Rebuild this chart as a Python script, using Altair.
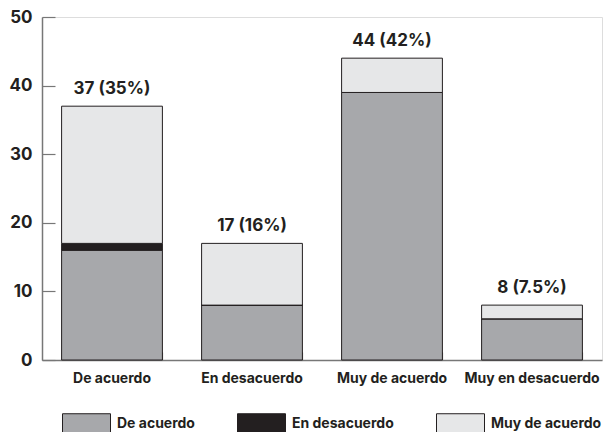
import altair as alt
import pandas as pd

# Categories on the x axis and the three answer groups stacked in each bar
categorias = ["De acuerdo", "En desacuerdo", "Muy de acuerdo", "Muy en desacuerdo"]
series = ["De acuerdo", "En desacuerdo", "Muy de acuerdo"]

# Stacked values per category (bottom to top: De acuerdo, En desacuerdo, Muy de acuerdo)
val_de_acuerdo = [16, 8, 39, 6]
val_en_desacuerdo = [1, 0, 0, 0]
val_muy_de_acuerdo = [20, 9, 5, 2]

# Totals and their labels above each bar
totales = [37, 17, 44, 8]
etiquetas = ["37 (35%)", "17 (16%)", "44 (42%)", "8 (7.5%)"]

colores = ["#a7a8ab", "#231f20", "#e6e7e8"]
FONT = "Inter"
W, H = 560, 343

filas = []
for i, cat in enumerate(categorias):
    for j, (s, vals) in enumerate(zip(series, [val_de_acuerdo, val_en_desacuerdo, val_muy_de_acuerdo])):
        filas.append({"categoria": cat, "serie": s, "valor": vals[i], "orden": j})
df = pd.DataFrame(filas)
df_tot = pd.DataFrame({"categoria": categorias, "total": totales, "etiqueta": etiquetas})

x_scale = alt.Scale(domain=categorias, paddingInner=0.28, paddingOuter=0.14)
y_scale = alt.Scale(domain=[0, 50])

barras = alt.Chart(df).mark_bar(stroke="#231f20", strokeWidth=1).encode(
    x=alt.X("categoria:N", scale=x_scale, sort=categorias, title=None,
            axis=alt.Axis(orient="bottom", ticks=False, domain=True, domainColor="#777777",
                          domainWidth=1.5, labelAngle=0, labelFont=FONT, labelFontSize=14,
                          labelFontWeight="bold", labelColor="#231f20", labelPadding=11)),
    y=alt.Y("valor:Q", stack="zero", scale=y_scale, title=None,
            axis=alt.Axis(orient="left", values=[0, 10, 20, 30, 40, 50], ticks=False, grid=False,
                          domain=True, domainColor="#777777", domainWidth=1.5,
                          labelFont=FONT, labelFontSize=17, labelFontWeight="bold",
                          labelColor="#231f20", labelPadding=10)),
    color=alt.Color("serie:N", scale=alt.Scale(domain=series, range=colores),
                    legend=alt.Legend(title=None, orient="none", direction="horizontal",
                                      legendX=20, legendY=382,
                                      symbolType="M-1,-0.417H1V0.417H-1Z", symbolSize=2304,
                                      symbolStrokeColor="#231f20", symbolStrokeWidth=1,
                                      symbolOpacity=1,
                                      labelFont=FONT, labelFontSize=14, labelFontWeight="bold",
                                      labelColor="#231f20", labelOffset=6, columnPadding=40)),
    order=alt.Order("orden:Q", sort="ascending"),
)

# Total labels; this layer also carries the inward-pointing tick marks of both axes
textos = alt.Chart(df_tot).mark_text(
    font=FONT, fontSize=17, fontWeight="bold", color="#231f20", baseline="alphabetic", dy=-12
).encode(
    x=alt.X("categoria:N", scale=x_scale, sort=categorias, title=None,
            axis=alt.Axis(orient="top", offset=-H, labels=False, domain=False, ticks=True,
                          tickBand="extent", tickSize=8, tickColor="#777777", tickWidth=1.2)),
    y=alt.Y("total:Q", scale=y_scale, title=None,
            axis=alt.Axis(orient="right", offset=-W, labels=False, domain=False, grid=False,
                          values=[0, 10, 20, 30, 40, 50], ticks=True, tickSize=13,
                          tickColor="#777777", tickWidth=1.2)),
    text="etiqueta:N",
)

chart = alt.layer(barras, textos).resolve_axis(
    x="independent", y="independent"
).properties(
    width=W, height=H,
    autosize=alt.AutoSizeParams(type="none"),
    padding={"left": 42, "top": 17, "right": 2, "bottom": 72},
).configure_view(stroke=None).configure(background="white")

chart.save("out.html", embed_options={"renderer": "svg", "actions": False})
